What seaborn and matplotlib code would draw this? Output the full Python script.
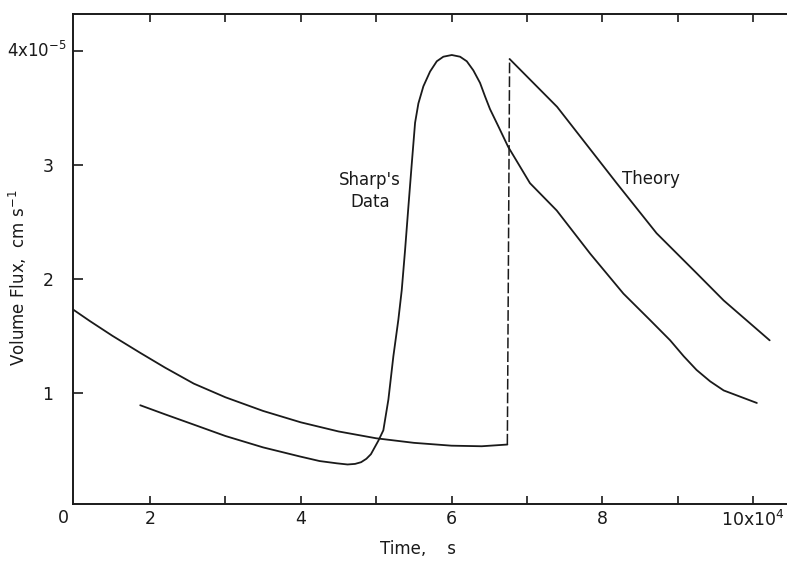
import matplotlib
matplotlib.use("Agg")
import matplotlib.pyplot as plt
import seaborn as sns
import pandas as pd

# ---- data (time in units of 1e4 s, flux in units of 1e-5 cm s^-1) ----
theory_pre_x = [0.98, 1.2, 1.5, 1.87, 2.2, 2.58, 3.0, 3.5, 4.0, 4.5, 5.0, 5.5, 6.0, 6.4, 6.74]
theory_pre_y = [1.73, 1.63, 1.50, 1.35, 1.22, 1.08, 0.96, 0.84, 0.74, 0.66, 0.60, 0.56, 0.535, 0.53, 0.545]
theory_post_x = [6.77, 7.40, 8.19, 8.72, 9.25, 9.61, 10.22]
theory_post_y = [3.93, 3.51, 2.84, 2.40, 2.05, 1.81, 1.46]
sharp_x = [1.87, 2.2, 2.58, 3.0, 3.5, 3.99, 4.25, 4.48, 4.62, 4.72, 4.80, 4.87, 4.93, 4.98, 5.03,
           5.095, 5.162, 5.228, 5.294, 5.339, 5.383, 5.427, 5.472, 5.516, 5.560, 5.626, 5.715,
           5.804, 5.891, 6.003, 6.113, 6.202, 6.289, 6.378, 6.445, 6.51, 6.62, 6.75, 7.04, 7.395,
           7.84, 8.28, 8.63, 8.90, 9.08, 9.25, 9.43, 9.61, 9.83, 10.05]
sharp_y = [0.89, 0.81, 0.72, 0.62, 0.52, 0.44, 0.40, 0.38, 0.37, 0.375, 0.39, 0.42, 0.46, 0.52, 0.58,
           0.67, 0.94, 1.32, 1.64, 1.90, 2.25, 2.63, 3.01, 3.37, 3.54, 3.69, 3.82,
           3.91, 3.95, 3.965, 3.95, 3.91, 3.83, 3.72, 3.60, 3.49, 3.34, 3.16, 2.84, 2.60,
           2.22, 1.87, 1.64, 1.46, 1.32, 1.20, 1.10, 1.02, 0.965, 0.91]
x_ticks = [2, 3, 4, 5, 6, 7, 8, 9, 10]
x_tick_labels = ["2", "", "4", "", "6", "", "8", "", "10x10$^{4}$"]
y_ticks = [1, 2, 3, 4]
y_tick_labels = ["1", "2", "3", ""]

sns.set_theme(style="white")
plt.rcParams["font.family"] = ["DejaVu Sans"]
plt.rcParams["mathtext.default"] = "regular"

fig = plt.figure(figsize=(7.87, 5.64), dpi=100)
ax = fig.add_axes([73 / 787, 60 / 564, 714 / 787, 490 / 564])

ink = "#1a1a1a"
df_pre = pd.DataFrame({"t": theory_pre_x, "q": theory_pre_y})
df_post = pd.DataFrame({"t": theory_post_x, "q": theory_post_y})
df_sharp = pd.DataFrame({"t": sharp_x, "q": sharp_y})
for d in (df_pre, df_post, df_sharp):
    sns.lineplot(data=d, x="t", y="q", ax=ax, color=ink, lw=1.3, sort=False, estimator=None)
# dashed jump in the theory curve
ax.plot([theory_pre_x[-1], theory_post_x[0]], [theory_pre_y[-1], theory_post_y[0]],
        color=ink, lw=1.1, dashes=(7, 2))

ax.set_xlim(0.978, 10.45)
ax.set_ylim(0.023, 4.325)
ax.set_xlabel("")
ax.set_ylabel("")

ax.set_xticks(x_ticks)
ax.set_xticklabels(x_tick_labels, fontsize=12.5, color=ink)
ax.set_yticks(y_ticks)
ax.set_yticklabels(y_tick_labels, fontsize=12.5, color=ink)
ax.tick_params(axis="x", direction="in", length=6, width=1.2, colors=ink, pad=4,
               top=True, bottom=True)
ax.tick_params(axis="y", direction="in", length=7, width=1.2, colors=ink, pad=14,
               left=True, right=False)

for s in ("left", "bottom", "top"):
    ax.spines[s].set_color(ink)
    ax.spines[s].set_linewidth(1.4)
ax.spines["right"].set_visible(False)

# corner "0" and top y label
ax.text(0.85, -0.1, "0", ha="center", va="center", fontsize=12.5, color=ink, clip_on=False)
ax.text(0.90, 4.0, "4x10$^{-5}$", ha="right", va="center", fontsize=12, color=ink, clip_on=False)

# annotations
ax.text(4.92, 2.77, "Sharp's\nData", ha="center", va="center", fontsize=12,
        color=ink, linespacing=1.3)
ax.text(8.65, 2.88, "Theory", ha="center", va="center", fontsize=12, color=ink)

fig.text(418 / 787, 1 - 549 / 564, "Time,    s", ha="center", va="center",
         fontsize=12, color=ink)
fig.text(18 / 787, 1 - 278 / 564, "Volume Flux,  cm s$^{-1}$", ha="center", va="center",
         rotation=90, fontsize=12, color=ink)

fig.savefig("out.png", dpi=100, facecolor="white")
